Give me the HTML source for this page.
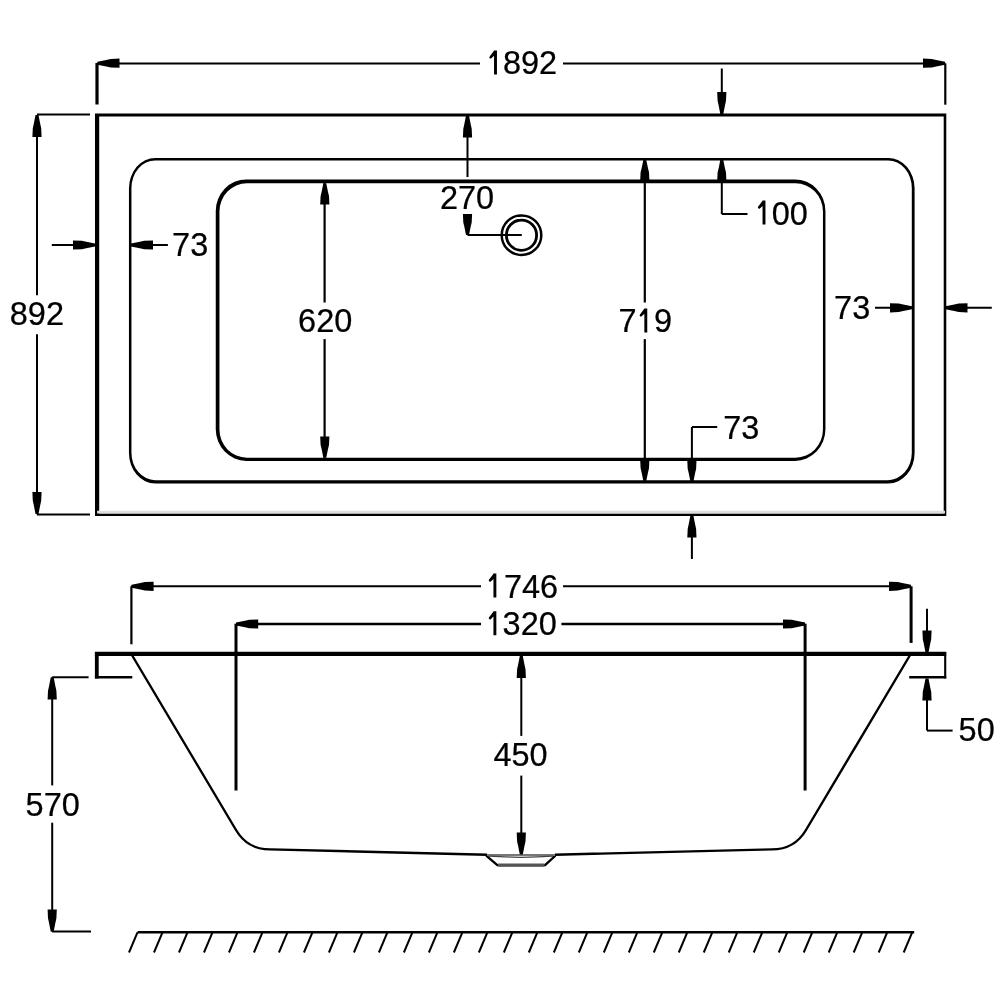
<!DOCTYPE html>
<html><head><meta charset="utf-8"><style>
html,body{margin:0;padding:0;background:#fff;}
svg{display:block;}
text{font-family:"Liberation Sans",sans-serif;fill:#000;stroke:#000;stroke-width:0.25px;}
</style></head><body>
<svg width="1005" height="1005" viewBox="0 0 1005 1005" stroke="#000" stroke-linecap="butt">
<rect x="0" y="0" width="1005" height="1005" fill="#fff" stroke="none"/>
<defs><filter id="ga" x="0" y="0" width="1005" height="1005" filterUnits="userSpaceOnUse"><feOffset dx="0" dy="0"/></filter></defs>
<g filter="url(#ga)">
<path d="M95.00,113.40H946.30V515.90H95.00Z M99.20,116.40H943.70V513.50H99.20Z" fill="#000" fill-rule="evenodd" stroke="none"/>
<line x1="97.1" y1="512.1" x2="945" y2="512.1" stroke-width="2.6" stroke="#ddd"/>
<path d="M155.27,157.90H888.27A26.32,30.48 0 0 1 914.60,188.37V452.97A26.32,30.48 0 0 1 888.27,483.45H155.27A26.32,30.48 0 0 1 128.95,452.97V188.37A26.32,30.48 0 0 1 155.27,157.90Z M155.12,160.50H888.13A23.68,27.52 0 0 1 911.80,188.03V452.63A23.68,27.52 0 0 1 888.13,480.15H155.12A23.68,27.52 0 0 1 131.45,452.63V188.03A23.68,27.52 0 0 1 155.12,160.50Z" fill="#000" fill-rule="evenodd" stroke="none"/>
<path d="M246.30,179.45H794.90A30.55,31.77 0 0 1 825.45,211.23V429.13A30.55,31.77 0 0 1 794.90,460.90H246.30A30.55,31.77 0 0 1 215.75,429.13V211.23A30.55,31.77 0 0 1 246.30,179.45Z M246.90,183.35H795.50A27.45,28.23 0 0 1 822.95,211.57V429.47A27.45,28.23 0 0 1 795.50,457.70H246.90A27.45,28.23 0 0 1 219.45,429.47V211.57A27.45,28.23 0 0 1 246.90,183.35Z" fill="#000" fill-rule="evenodd" stroke="none"/>
<line x1="97" y1="63" x2="97" y2="104.5" stroke-width="3.2"/>
<line x1="945.3" y1="63.4" x2="945.3" y2="104.7" stroke-width="2.2"/>
<line x1="97" y1="63.4" x2="480" y2="63.4" stroke-width="2"/>
<line x1="563" y1="63.4" x2="945.3" y2="63.4" stroke-width="2"/>
<polygon points="97.50,61.70 106.30,60.00 110.70,59.00 119.50,58.60 119.50,67.80 110.70,67.40 106.30,66.40 97.50,64.70" stroke="none" fill="#000"/>
<polygon points="945.00,64.70 936.20,66.40 931.80,67.40 923.00,67.80 923.00,58.60 931.80,59.00 936.20,60.00 945.00,61.70" stroke="none" fill="#000"/>
<polygon points="494.05,50.40 496.95,50.40 496.95,74.40 494.05,74.40 494.05,55.70 491.10,58.50 489.90,58.40 489.30,57.40 489.70,56.40 493.75,51.00" stroke="none" fill="#000"/>
<text transform="translate(504.20,74.30) scale(0.978,1)" x="-1.33" y="0" font-size="33.2">892</text>
<line x1="37" y1="115" x2="37" y2="295.3" stroke-width="2"/>
<line x1="37" y1="334.3" x2="37" y2="514.3" stroke-width="2"/>
<line x1="37" y1="114.4" x2="90" y2="114.4" stroke-width="2"/>
<line x1="37" y1="514.4" x2="90" y2="514.4" stroke-width="2"/>
<polygon points="38.50,115.00 40.20,123.80 41.20,128.20 41.60,137.00 32.40,137.00 32.80,128.20 33.80,123.80 35.50,115.00" stroke="none" fill="#000"/>
<polygon points="35.50,514.00 33.80,505.20 32.80,500.80 32.40,492.00 41.60,492.00 41.20,500.80 40.20,505.20 38.50,514.00" stroke="none" fill="#000"/>
<text transform="translate(11.10,325.20) scale(0.978,1)" x="-1.33" y="0" font-size="33.2">892</text>
<line x1="51.8" y1="245" x2="95" y2="245" stroke-width="2"/>
<polygon points="95.00,246.50 86.20,248.20 81.80,249.20 73.00,249.60 73.00,240.40 81.80,240.80 86.20,241.80 95.00,243.50" stroke="none" fill="#000"/>
<line x1="131" y1="245" x2="167.9" y2="245" stroke-width="2"/>
<polygon points="131.00,243.50 139.80,241.80 144.20,240.80 153.00,240.40 153.00,249.60 144.20,249.20 139.80,248.20 131.00,246.50" stroke="none" fill="#000"/>
<text transform="translate(173.70,256.00) scale(0.978,1)" x="-1.66" y="0" font-size="33.2">73</text>
<line x1="467.5" y1="115" x2="467.5" y2="177" stroke-width="2"/>
<polygon points="469.00,115.50 470.70,124.30 471.70,128.70 472.10,137.50 462.90,137.50 463.30,128.70 464.30,124.30 466.00,115.50" stroke="none" fill="#000"/>
<polygon points="466.00,235.00 464.30,226.60 463.30,222.40 462.90,214.00 472.10,214.00 471.70,222.40 470.70,226.60 469.00,235.00" stroke="none" fill="#000"/>
<line x1="467.5" y1="235.1" x2="521.8" y2="235.1" stroke-width="2"/>
<text transform="translate(441.60,209.20) scale(0.978,1)" x="-1.66" y="0" font-size="33.2">270</text>
<circle cx="521.5" cy="235.2" r="19.8" fill="none" stroke-width="2.5"/>
<circle cx="521.5" cy="235.2" r="15.1" fill="none" stroke-width="2.8"/>
<line x1="721.8" y1="68.5" x2="721.8" y2="114" stroke-width="2"/>
<polygon points="720.30,114.00 718.60,105.20 717.60,100.80 717.20,92.00 726.40,92.00 726.00,100.80 725.00,105.20 723.30,114.00" stroke="none" fill="#000"/>
<line x1="721.8" y1="160" x2="721.8" y2="214" stroke-width="2"/>
<polygon points="723.30,160.00 725.00,168.40 726.00,172.60 726.40,181.00 717.20,181.00 717.60,172.60 718.60,168.40 720.30,160.00" stroke="none" fill="#000"/>
<line x1="721.8" y1="214" x2="747.5" y2="214" stroke-width="2"/>
<polygon points="762.55,200.60 765.45,200.60 765.45,224.60 762.55,224.60 762.55,205.90 759.60,208.70 758.40,208.60 757.80,207.60 758.20,206.60 762.25,201.20" stroke="none" fill="#000"/>
<text transform="translate(773.00,224.50) scale(0.978,1)" x="-1.33" y="0" font-size="33.2">00</text>
<line x1="324.6" y1="183" x2="324.6" y2="302.5" stroke-width="2.2"/>
<line x1="324.6" y1="339.1" x2="324.6" y2="458" stroke-width="2.2"/>
<polygon points="326.30,183.50 328.00,191.90 329.00,196.10 329.40,204.50 320.20,204.50 320.60,196.10 321.60,191.90 323.30,183.50" stroke="none" fill="#000"/>
<polygon points="323.30,457.50 321.60,449.10 320.60,444.90 320.20,436.50 329.40,436.50 329.00,444.90 328.00,449.10 326.30,457.50" stroke="none" fill="#000"/>
<text transform="translate(299.70,332.40) scale(0.978,1)" x="-1.66" y="0" font-size="33.2">620</text>
<line x1="644.8" y1="160" x2="644.8" y2="302.5" stroke-width="2.2"/>
<line x1="644.8" y1="339.1" x2="644.8" y2="481" stroke-width="2.2"/>
<polygon points="646.30,160.30 648.00,168.30 649.00,172.30 649.40,180.30 640.20,180.30 640.60,172.30 641.60,168.30 643.30,160.30" stroke="none" fill="#000"/>
<polygon points="643.30,480.80 641.60,472.40 640.60,468.20 640.20,459.80 649.40,459.80 649.00,468.20 648.00,472.40 646.30,480.80" stroke="none" fill="#000"/>
<text transform="translate(620.10,332.40) scale(0.978,1)" x="-1.66" y="0" font-size="33.2">7</text>
<polygon points="644.35,308.40 647.25,308.40 647.25,332.40 644.35,332.40 644.35,313.70 641.40,316.50 640.20,316.40 639.60,315.40 640.00,314.40 644.05,309.00" stroke="none" fill="#000"/>
<text transform="translate(655.60,332.40) scale(0.978,1)" x="-1.66" y="0" font-size="33.2">9</text>
<line x1="875" y1="307.8" x2="912" y2="307.8" stroke-width="2"/>
<polygon points="912.00,309.30 903.20,311.00 898.80,312.00 890.00,312.40 890.00,303.20 898.80,303.60 903.20,304.60 912.00,306.30" stroke="none" fill="#000"/>
<line x1="945.5" y1="307.8" x2="991.8" y2="307.8" stroke-width="2"/>
<polygon points="945.50,306.30 954.30,304.60 958.70,303.60 967.50,303.20 967.50,312.40 958.70,312.00 954.30,311.00 945.50,309.30" stroke="none" fill="#000"/>
<text transform="translate(835.70,319.20) scale(0.978,1)" x="-1.66" y="0" font-size="33.2">73</text>
<line x1="691.9" y1="427" x2="691.9" y2="482" stroke-width="2"/>
<polygon points="690.40,481.50 688.70,473.10 687.70,468.90 687.30,460.50 696.50,460.50 696.10,468.90 695.10,473.10 693.40,481.50" stroke="none" fill="#000"/>
<line x1="691.9" y1="427" x2="717.2" y2="427" stroke-width="2"/>
<text transform="translate(724.90,438.50) scale(0.978,1)" x="-1.66" y="0" font-size="33.2">73</text>
<line x1="691.9" y1="515" x2="691.9" y2="559" stroke-width="2"/>
<polygon points="693.40,515.50 695.10,524.30 696.10,528.70 696.50,537.50 687.30,537.50 687.70,528.70 688.70,524.30 690.40,515.50" stroke="none" fill="#000"/>
<line x1="131.4" y1="586.3" x2="131.4" y2="644.3" stroke-width="2.2"/>
<line x1="911.1" y1="586.3" x2="911.1" y2="642.9" stroke-width="3"/>
<line x1="131.4" y1="586.3" x2="481" y2="586.3" stroke-width="2"/>
<line x1="563" y1="586.3" x2="911.1" y2="586.3" stroke-width="2"/>
<polygon points="131.60,584.80 140.40,583.10 144.80,582.10 153.60,581.70 153.60,590.90 144.80,590.50 140.40,589.50 131.60,587.80" stroke="none" fill="#000"/>
<polygon points="911.00,587.80 902.20,589.50 897.80,590.50 889.00,590.90 889.00,581.70 897.80,582.10 902.20,583.10 911.00,584.80" stroke="none" fill="#000"/>
<polygon points="493.45,573.60 496.35,573.60 496.35,597.60 493.45,597.60 493.45,578.90 490.50,581.70 489.30,581.60 488.70,580.60 489.10,579.60 493.15,574.20" stroke="none" fill="#000"/>
<text transform="translate(505.60,597.50) scale(0.978,1)" x="-1.66" y="0" font-size="33.2">746</text>
<line x1="236" y1="623.7" x2="236" y2="790.5" stroke-width="3"/>
<line x1="805.1" y1="623.7" x2="805.1" y2="790.5" stroke-width="3"/>
<line x1="236" y1="624" x2="481" y2="624" stroke-width="2.4"/>
<line x1="561.4" y1="624" x2="805.1" y2="624" stroke-width="2.4"/>
<polygon points="236.20,622.50 245.00,620.80 249.40,619.80 258.20,619.40 258.20,628.60 249.40,628.20 245.00,627.20 236.20,625.50" stroke="none" fill="#000"/>
<polygon points="805.00,625.50 796.20,627.20 791.80,628.20 783.00,628.60 783.00,619.40 791.80,619.80 796.20,620.80 805.00,622.50" stroke="none" fill="#000"/>
<polygon points="493.45,611.30 496.35,611.30 496.35,635.30 493.45,635.30 493.45,616.60 490.50,619.40 489.30,619.30 488.70,618.30 489.10,617.30 493.15,611.90" stroke="none" fill="#000"/>
<text transform="translate(503.90,635.20) scale(0.978,1)" x="-1.33" y="0" font-size="33.2">320</text>
<line x1="94.9" y1="653.9" x2="946.2" y2="653.9" stroke-width="4.1"/>
<line x1="96.8" y1="652" x2="96.8" y2="678.5" stroke-width="3.8"/>
<line x1="94.9" y1="677.3" x2="132.3" y2="677.3" stroke-width="2.5"/>
<line x1="945.2" y1="652" x2="945.2" y2="678.5" stroke-width="2.1"/>
<line x1="909.2" y1="677.2" x2="946.25" y2="677.2" stroke-width="2.6"/>
<path d="M131.3,654 L236,830 Q247.5,849.4 270,849.4 L487,854.7 M555,854.7 L772,849.4 Q794.5,849.4 806,830 L910.7,654" fill="none" stroke-width="2.4"/>
<path d="M486.2,855.6 L497.3,865.2 L545.1,865.2 L555.4,855.6" fill="none" stroke-width="2.3"/>
<path d="M487,854.9 L555,854.9" fill="none" stroke-width="2" stroke="#777"/>
<path d="M489,856.2 Q521,858.5 553,856.2" fill="none" stroke-width="1.2" stroke="#444"/>
<line x1="498" y1="865.2" x2="544.5" y2="865.2" stroke-width="3.2" stroke="#555"/>
<line x1="521.3" y1="656" x2="521.3" y2="735.9" stroke-width="2"/>
<line x1="521.3" y1="775.6" x2="521.3" y2="853" stroke-width="2"/>
<polygon points="522.80,656.00 524.50,664.80 525.50,669.20 525.90,678.00 516.70,678.00 517.10,669.20 518.10,664.80 519.80,656.00" stroke="none" fill="#000"/>
<polygon points="519.80,854.60 518.10,845.80 517.10,841.40 516.70,832.60 525.90,832.60 525.50,841.40 524.50,845.80 522.80,854.60" stroke="none" fill="#000"/>
<text transform="translate(494.10,766.20) scale(0.978,1)" x="-0.66" y="0" font-size="33.2">450</text>
<line x1="927" y1="608.8" x2="927" y2="652" stroke-width="2"/>
<polygon points="925.50,652.50 923.80,643.70 922.80,639.30 922.40,630.50 931.60,630.50 931.20,639.30 930.20,643.70 928.50,652.50" stroke="none" fill="#000"/>
<line x1="927" y1="679" x2="927" y2="730.6" stroke-width="2"/>
<polygon points="928.50,678.50 930.20,687.30 931.20,691.70 931.60,700.50 922.40,700.50 922.80,691.70 923.80,687.30 925.50,678.50" stroke="none" fill="#000"/>
<line x1="927" y1="730.6" x2="952.6" y2="730.6" stroke-width="2"/>
<text transform="translate(959.90,741.20) scale(0.978,1)" x="-1.33" y="0" font-size="33.2">50</text>
<line x1="52.2" y1="677.3" x2="52.2" y2="785.4" stroke-width="2"/>
<line x1="52.2" y1="822.7" x2="52.2" y2="931.6" stroke-width="2"/>
<line x1="52.2" y1="677.3" x2="88.6" y2="677.3" stroke-width="2"/>
<line x1="52.2" y1="931.6" x2="91" y2="931.6" stroke-width="2"/>
<polygon points="53.70,677.50 55.40,686.30 56.40,690.70 56.80,699.50 47.60,699.50 48.00,690.70 49.00,686.30 50.70,677.50" stroke="none" fill="#000"/>
<polygon points="50.70,931.50 49.00,922.70 48.00,918.30 47.60,909.50 56.80,909.50 56.40,918.30 55.40,922.70 53.70,931.50" stroke="none" fill="#000"/>
<text transform="translate(26.90,816.30) scale(0.978,1)" x="-1.33" y="0" font-size="33.2">570</text>
<line x1="137.5" y1="932.3" x2="914.2" y2="932.3" stroke-width="2.4"/>
<line x1="137.5" y1="932.3" x2="129.0" y2="952.5" stroke-width="2"/>
<line x1="162.49" y1="932.3" x2="153.99" y2="952.5" stroke-width="2"/>
<line x1="187.48" y1="932.3" x2="178.98" y2="952.5" stroke-width="2"/>
<line x1="212.47" y1="932.3" x2="203.97" y2="952.5" stroke-width="2"/>
<line x1="237.45999999999998" y1="932.3" x2="228.95999999999998" y2="952.5" stroke-width="2"/>
<line x1="262.45" y1="932.3" x2="253.95" y2="952.5" stroke-width="2"/>
<line x1="287.44" y1="932.3" x2="278.94" y2="952.5" stroke-width="2"/>
<line x1="312.42999999999995" y1="932.3" x2="303.92999999999995" y2="952.5" stroke-width="2"/>
<line x1="337.41999999999996" y1="932.3" x2="328.91999999999996" y2="952.5" stroke-width="2"/>
<line x1="362.40999999999997" y1="932.3" x2="353.90999999999997" y2="952.5" stroke-width="2"/>
<line x1="387.4" y1="932.3" x2="378.9" y2="952.5" stroke-width="2"/>
<line x1="412.39" y1="932.3" x2="403.89" y2="952.5" stroke-width="2"/>
<line x1="437.38" y1="932.3" x2="428.88" y2="952.5" stroke-width="2"/>
<line x1="462.37" y1="932.3" x2="453.87" y2="952.5" stroke-width="2"/>
<line x1="487.35999999999996" y1="932.3" x2="478.85999999999996" y2="952.5" stroke-width="2"/>
<line x1="512.3499999999999" y1="932.3" x2="503.8499999999999" y2="952.5" stroke-width="2"/>
<line x1="537.3399999999999" y1="932.3" x2="528.8399999999999" y2="952.5" stroke-width="2"/>
<line x1="562.3299999999999" y1="932.3" x2="553.8299999999999" y2="952.5" stroke-width="2"/>
<line x1="587.3199999999999" y1="932.3" x2="578.8199999999999" y2="952.5" stroke-width="2"/>
<line x1="612.31" y1="932.3" x2="603.81" y2="952.5" stroke-width="2"/>
<line x1="637.3" y1="932.3" x2="628.8" y2="952.5" stroke-width="2"/>
<line x1="662.29" y1="932.3" x2="653.79" y2="952.5" stroke-width="2"/>
<line x1="687.28" y1="932.3" x2="678.78" y2="952.5" stroke-width="2"/>
<line x1="712.27" y1="932.3" x2="703.77" y2="952.5" stroke-width="2"/>
<line x1="737.26" y1="932.3" x2="728.76" y2="952.5" stroke-width="2"/>
<line x1="762.25" y1="932.3" x2="753.75" y2="952.5" stroke-width="2"/>
<line x1="787.24" y1="932.3" x2="778.74" y2="952.5" stroke-width="2"/>
<line x1="812.2299999999999" y1="932.3" x2="803.7299999999999" y2="952.5" stroke-width="2"/>
<line x1="837.2199999999999" y1="932.3" x2="828.7199999999999" y2="952.5" stroke-width="2"/>
<line x1="862.2099999999999" y1="932.3" x2="853.7099999999999" y2="952.5" stroke-width="2"/>
<line x1="887.1999999999999" y1="932.3" x2="878.6999999999999" y2="952.5" stroke-width="2"/>
<line x1="912.1899999999999" y1="932.3" x2="903.6899999999999" y2="952.5" stroke-width="2"/>
</g>
</svg></body></html>
